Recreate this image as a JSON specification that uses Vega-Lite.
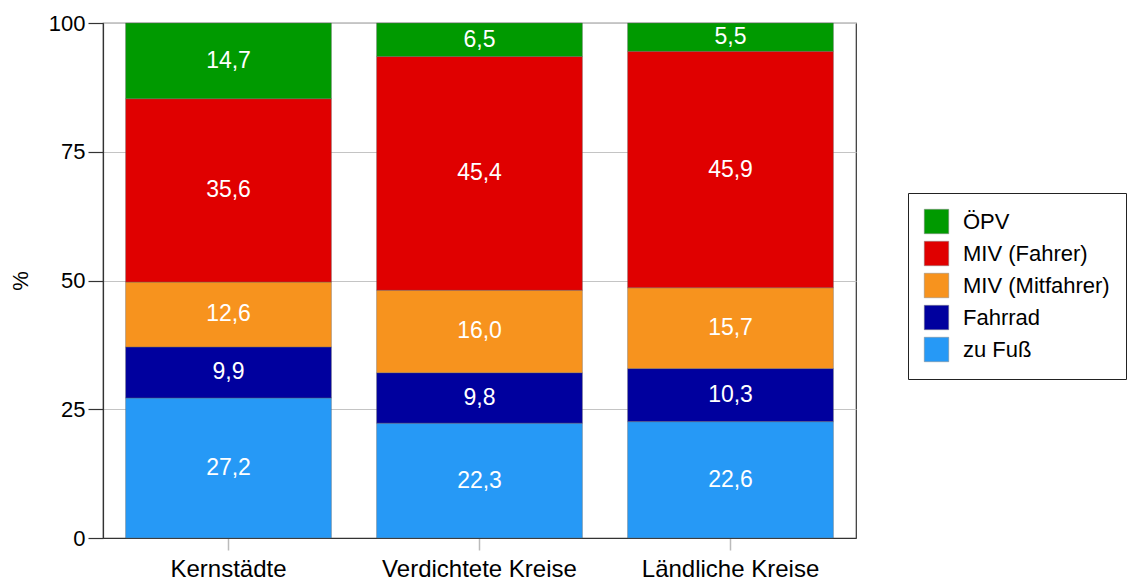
{
  "$schema": "https://vega.github.io/schema/vega-lite/v6.json",
  "width": 753,
  "height": 515,
  "autosize": "none",
  "padding": {"left": 103, "top": 23, "right": 274, "bottom": 43},
  "background": "white",
  "config": {
    "font": "Liberation Sans",
    "view": {"stroke": "#333333", "strokeWidth": 1.2},
    "locale": {"number": {"decimal": ",", "thousands": ".", "grouping": [3], "currency": ["", " €"]}}
  },
  "data": {
    "values": [
      {"region": "Kernstädte", "mode": "zu Fuß", "o": 1, "value": 27.2},
      {"region": "Kernstädte", "mode": "Fahrrad", "o": 2, "value": 9.9},
      {"region": "Kernstädte", "mode": "MIV (Mitfahrer)", "o": 3, "value": 12.6},
      {"region": "Kernstädte", "mode": "MIV (Fahrer)", "o": 4, "value": 35.6},
      {"region": "Kernstädte", "mode": "ÖPV", "o": 5, "value": 14.7},
      {"region": "Verdichtete Kreise", "mode": "zu Fuß", "o": 1, "value": 22.3},
      {"region": "Verdichtete Kreise", "mode": "Fahrrad", "o": 2, "value": 9.8},
      {"region": "Verdichtete Kreise", "mode": "MIV (Mitfahrer)", "o": 3, "value": 16.0},
      {"region": "Verdichtete Kreise", "mode": "MIV (Fahrer)", "o": 4, "value": 45.4},
      {"region": "Verdichtete Kreise", "mode": "ÖPV", "o": 5, "value": 6.5},
      {"region": "Ländliche Kreise", "mode": "zu Fuß", "o": 1, "value": 22.6},
      {"region": "Ländliche Kreise", "mode": "Fahrrad", "o": 2, "value": 10.3},
      {"region": "Ländliche Kreise", "mode": "MIV (Mitfahrer)", "o": 3, "value": 15.7},
      {"region": "Ländliche Kreise", "mode": "MIV (Fahrer)", "o": 4, "value": 45.9},
      {"region": "Ländliche Kreise", "mode": "ÖPV", "o": 5, "value": 5.5}
    ]
  },
  "transform": [
    {"stack": "value", "groupby": ["region"], "sort": [{"field": "o", "order": "ascending"}], "as": ["y0", "y1"]},
    {"calculate": "(datum.y0 + datum.y1) / 2", "as": "mid"}
  ],
  "encoding": {
    "x": {
      "field": "region",
      "type": "nominal",
      "sort": ["Kernstädte", "Verdichtete Kreise", "Ländliche Kreise"],
      "scale": {"paddingInner": 0.18, "paddingOuter": 0.09},
      "axis": {
        "title": null,
        "labelAngle": 0,
        "labelFontSize": 24,
        "labelLimit": 0,
        "labelColor": "#000000",
        "labelPadding": 7,
        "tickColor": "#BBBBBB",
        "tickSize": 12,
        "tickWidth": 1.5,
        "domainColor": "#333333",
        "domainWidth": 1.2
      }
    }
  },
  "layer": [
    {
      "mark": {"type": "bar", "stroke": "#666666", "strokeWidth": 0.4},
      "encoding": {
        "y": {
          "field": "y1",
          "type": "quantitative",
          "scale": {"domain": [0, 100], "nice": false},
          "axis": {
            "title": "%",
            "titleFontSize": 22,
            "titleFontWeight": "normal",
            "titleColor": "#000000",
            "titlePadding": 16,
            "values": [0, 25, 50, 75, 100],
            "labelFontSize": 22,
            "labelColor": "#000000",
            "labelPadding": 3,
            "tickSize": 15,
            "tickColor": "#333333",
            "tickWidth": 1.2,
            "domainColor": "#333333",
            "domainWidth": 1.2,
            "grid": true,
            "gridColor": "#C4C4C4",
            "gridWidth": 1
          }
        },
        "y2": {"field": "y0"},
        "color": {
          "field": "mode",
          "type": "nominal",
          "scale": {
            "domain": ["ÖPV", "MIV (Fahrer)", "MIV (Mitfahrer)", "Fahrrad", "zu Fuß"],
            "range": ["#009A00", "#E00000", "#F7931E", "#00009E", "#2699F6"]
          },
          "legend": {
            "title": null,
            "orient": "none",
            "legendX": 805,
            "legendY": 170,
            "padding": 16,
            "strokeColor": "#222222",
            "fillColor": "white",
            "symbolType": "square",
            "symbolSize": 600,
            "symbolStrokeColor": "#888888",
            "symbolStrokeWidth": 0.5,
            "symbolOpacity": 1,
            "labelFontSize": 22,
            "labelColor": "#000000",
            "labelOffset": 14,
            "rowPadding": 5
          }
        }
      }
    },
    {
      "mark": {"type": "text", "color": "white", "fontSize": 23, "baseline": "middle", "align": "center"},
      "encoding": {
        "y": {
          "field": "mid",
          "type": "quantitative",
          "axis": {
            "title": "%",
            "titleFontSize": 22,
            "titleFontWeight": "normal",
            "titleColor": "#000000",
            "titlePadding": 16,
            "values": [0, 25, 50, 75, 100],
            "labelFontSize": 22,
            "labelColor": "#000000",
            "labelPadding": 3,
            "tickSize": 15,
            "tickColor": "#333333",
            "tickWidth": 1.2,
            "domainColor": "#333333",
            "domainWidth": 1.2,
            "grid": true,
            "gridColor": "#C4C4C4",
            "gridWidth": 1
          }
        },
        "text": {"field": "value", "type": "quantitative", "format": ".1f"}
      }
    }
  ]
}
